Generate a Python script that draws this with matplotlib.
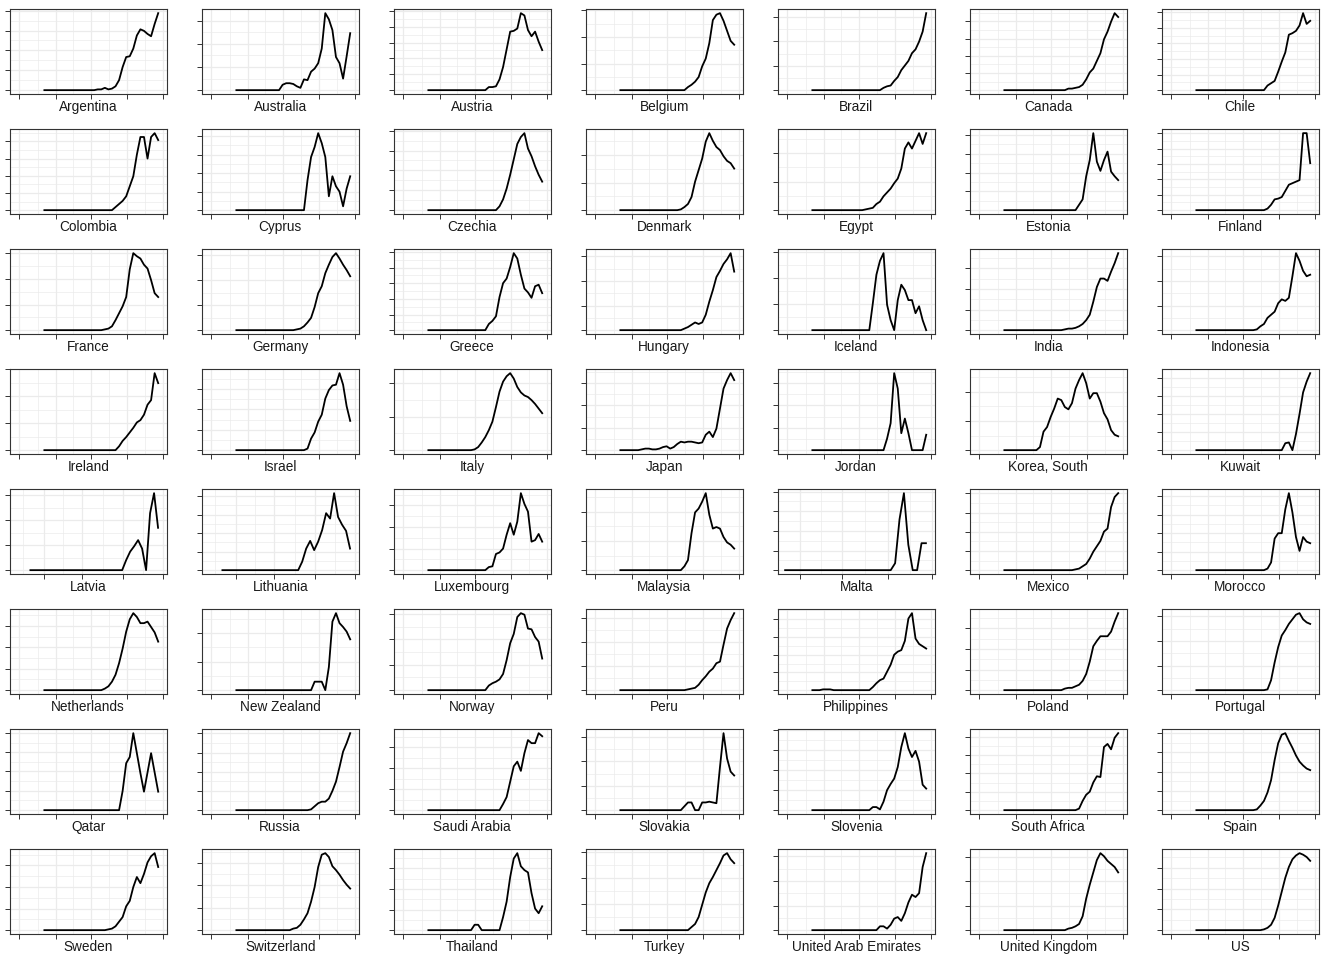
import pandas as pd
import matplotlib
matplotlib.use("Agg")
import matplotlib.pyplot as plt
import matplotlib.dates as mdates
from matplotlib.ticker import MultipleLocator, FixedLocator

# values sampled every 3 days from 22 Jan 2020, in % of each country's peak
dates = pd.date_range("2020-01-22", periods=33, freq="3D")

argentina = [0, 0, 0, 0, 0, 0, 0, 0, 0, 0, 0, 0, 0, 0, 0, 1, 1, 3, 1, 2, 5, 13, 30, 43, 44, 54, 71, 79, 77, 73, 70, 86, 100]
australia = [0, 0, 0, 0, 0, 0, 0, 0, 0, 0, 0, 0, 0, 7, 9, 9, 8, 5, 3, 14, 13, 24, 28, 35, 54, 100, 92, 78, 43, 35, 15, 44, 74]
austria = [0, 0, 0, 0, 0, 0, 0, 0, 0, 0, 0, 0, 0, 0, 0, 0, 0, 4, 4, 5, 14, 30, 53, 76, 77, 80, 100, 97, 78, 70, 76, 63, 52]
belgium = [0, 0, 0, 0, 0, 0, 0, 0, 0, 0, 0, 0, 0, 0, 0, 0, 0, 0, 0, 4, 7, 11, 17, 31, 41, 61, 91, 98, 100, 90, 77, 64, 59]
brazil = [0, 0, 0, 0, 0, 0, 0, 0, 0, 0, 0, 0, 0, 0, 0, 0, 0, 0, 0, 0, 3, 5, 6, 12, 17, 26, 32, 38, 48, 53, 63, 76, 100]
canada = [0, 0, 0, 0, 0, 0, 0, 0, 0, 0, 0, 0, 0, 0, 0, 0, 0, 0, 2, 2, 3, 4, 7, 14, 23, 28, 38, 48, 66, 76, 89, 100, 95]
chile = [0, 0, 0, 0, 0, 0, 0, 0, 0, 0, 0, 0, 0, 0, 0, 0, 0, 0, 0, 0, 6, 9, 12, 24, 37, 49, 72, 74, 77, 84, 100, 86, 90]
colombia = [0, 0, 0, 0, 0, 0, 0, 0, 0, 0, 0, 0, 0, 0, 0, 0, 0, 0, 0, 0, 4, 8, 12, 18, 31, 44, 72, 95, 95, 67, 95, 100, 91]
cyprus = [0, 0, 0, 0, 0, 0, 0, 0, 0, 0, 0, 0, 0, 0, 0, 0, 0, 0, 0, 0, 39, 69, 82, 100, 87, 69, 18, 44, 31, 24, 5, 28, 44]
czechia = [0, 0, 0, 0, 0, 0, 0, 0, 0, 0, 0, 0, 0, 0, 0, 0, 0, 0, 0, 0, 5, 14, 28, 46, 66, 86, 95, 100, 80, 70, 57, 46, 37]
denmark = [0, 0, 0, 0, 0, 0, 0, 0, 0, 0, 0, 0, 0, 0, 0, 0, 0, 1, 4, 8, 17, 37, 52, 67, 89, 100, 90, 82, 78, 70, 64, 61, 54]
egypt = [0, 0, 0, 0, 0, 0, 0, 0, 0, 0, 0, 0, 0, 0, 0, 1, 2, 3, 8, 11, 18, 23, 28, 35, 41, 54, 80, 88, 80, 90, 100, 86, 100]
estonia = [0, 0, 0, 0, 0, 0, 0, 0, 0, 0, 0, 0, 0, 0, 0, 0, 0, 0, 0, 0, 0, 7, 14, 44, 65, 100, 63, 51, 65, 76, 50, 44, 39]
finland = [0, 0, 0, 0, 0, 0, 0, 0, 0, 0, 0, 0, 0, 0, 0, 0, 0, 0, 0, 0, 2, 7, 14, 15, 17, 25, 33, 35, 37, 39, 100, 100, 61]
france = [0, 0, 0, 0, 0, 0, 0, 0, 0, 0, 0, 0, 0, 0, 0, 0, 0, 1, 2, 5, 13, 22, 31, 43, 79, 100, 96, 93, 85, 80, 65, 48, 43]
germany = [0, 0, 0, 0, 0, 0, 0, 0, 0, 0, 0, 0, 0, 0, 0, 0, 0, 1, 2, 5, 10, 16, 30, 48, 57, 74, 85, 95, 100, 93, 85, 78, 70]
greece = [0, 0, 0, 0, 0, 0, 0, 0, 0, 0, 0, 0, 0, 0, 0, 0, 0, 8, 12, 18, 43, 61, 67, 82, 100, 93, 72, 54, 49, 42, 57, 59, 48]
hungary = [0, 0, 0, 0, 0, 0, 0, 0, 0, 0, 0, 0, 0, 0, 0, 0, 0, 0, 2, 4, 7, 10, 8, 10, 20, 37, 52, 69, 77, 86, 92, 100, 76]
iceland = [0, 0, 0, 0, 0, 0, 0, 0, 0, 0, 0, 0, 0, 0, 0, 0, 0, 35, 72, 90, 100, 33, 13, 0, 39, 59, 52, 39, 39, 22, 31, 13, 0]
india = [0, 0, 0, 0, 0, 0, 0, 0, 0, 0, 0, 0, 0, 0, 0, 0, 0, 1, 2, 2, 3, 5, 8, 13, 20, 37, 56, 67, 67, 64, 76, 87, 100]
indonesia = [0, 0, 0, 0, 0, 0, 0, 0, 0, 0, 0, 0, 0, 0, 0, 0, 0, 1, 5, 8, 16, 20, 24, 35, 40, 38, 42, 70, 100, 90, 77, 70, 72]
ireland = [0, 0, 0, 0, 0, 0, 0, 0, 0, 0, 0, 0, 0, 0, 0, 0, 0, 0, 0, 0, 0, 5, 12, 17, 23, 29, 36, 39, 46, 59, 65, 100, 87]
israel = [0, 0, 0, 0, 0, 0, 0, 0, 0, 0, 0, 0, 0, 0, 0, 0, 0, 0, 0, 0, 2, 15, 23, 37, 46, 67, 78, 84, 85, 100, 85, 57, 38]
italy = [0, 0, 0, 0, 0, 0, 0, 0, 0, 0, 0, 0, 0, 1, 4, 10, 17, 26, 37, 56, 76, 89, 96, 100, 93, 82, 75, 71, 69, 65, 60, 54, 48]
japan = [0, 0, 0, 0, 0, 0, 1, 2, 2, 1, 1, 2, 4, 5, 2, 4, 8, 11, 10, 11, 11, 10, 9, 10, 20, 24, 17, 28, 54, 80, 91, 100, 91]
jordan = [0, 0, 0, 0, 0, 0, 0, 0, 0, 0, 0, 0, 0, 0, 0, 0, 0, 0, 0, 0, 0, 15, 35, 100, 80, 22, 41, 22, 0, 0, 0, 0, 20]
korea_south = [0, 0, 0, 0, 0, 0, 0, 0, 0, 0, 4, 24, 30, 43, 54, 67, 65, 56, 53, 61, 80, 91, 100, 87, 67, 74, 74, 63, 48, 40, 26, 20, 18]
kuwait = [0, 0, 0, 0, 0, 0, 0, 0, 0, 0, 0, 0, 0, 0, 0, 0, 0, 0, 0, 0, 0, 0, 0, 0, 0, 9, 10, 0, 21, 47, 75, 89, 100]
latvia = [0, 0, 0, 0, 0, 0, 0, 0, 0, 0, 0, 0, 0, 0, 0, 0, 0, 0, 0, 0, 0, 0, 0, 0, 13, 24, 31, 39, 28, 0, 74, 100, 55]
lithuania = [0, 0, 0, 0, 0, 0, 0, 0, 0, 0, 0, 0, 0, 0, 0, 0, 0, 0, 0, 0, 11, 28, 38, 26, 37, 52, 74, 67, 100, 69, 59, 51, 28]
luxembourg = [0, 0, 0, 0, 0, 0, 0, 0, 0, 0, 0, 0, 0, 0, 0, 0, 0, 4, 5, 21, 23, 28, 46, 61, 46, 63, 100, 86, 76, 37, 39, 47, 37]
malaysia = [0, 0, 0, 0, 0, 0, 0, 0, 0, 0, 0, 0, 0, 0, 0, 0, 0, 0, 5, 13, 48, 75, 80, 89, 100, 72, 54, 56, 54, 43, 36, 33, 28]
malta = [0, 0, 0, 0, 0, 0, 0, 0, 0, 0, 0, 0, 0, 0, 0, 0, 0, 0, 0, 0, 0, 0, 0, 0, 0, 9, 66, 100, 33, 0, 0, 35, 35]
mexico = [0, 0, 0, 0, 0, 0, 0, 0, 0, 0, 0, 0, 0, 0, 0, 0, 0, 0, 0, 0, 1, 2, 5, 8, 15, 24, 31, 38, 50, 54, 82, 95, 100]
morocco = [0, 0, 0, 0, 0, 0, 0, 0, 0, 0, 0, 0, 0, 0, 0, 0, 0, 0, 0, 0, 2, 10, 41, 48, 48, 79, 100, 75, 43, 25, 43, 37, 35]
netherlands = [0, 0, 0, 0, 0, 0, 0, 0, 0, 0, 0, 0, 0, 0, 0, 0, 0, 2, 5, 11, 20, 35, 54, 76, 92, 100, 95, 87, 87, 89, 82, 75, 63]
new_zealand = [0, 0, 0, 0, 0, 0, 0, 0, 0, 0, 0, 0, 0, 0, 0, 0, 0, 0, 0, 0, 0, 0, 11, 11, 11, 0, 30, 89, 100, 87, 82, 76, 66]
norway = [0, 0, 0, 0, 0, 0, 0, 0, 0, 0, 0, 0, 0, 0, 0, 0, 0, 6, 9, 11, 14, 21, 39, 61, 73, 95, 100, 98, 80, 79, 69, 63, 41]
peru = [0, 0, 0, 0, 0, 0, 0, 0, 0, 0, 0, 0, 0, 0, 0, 0, 0, 0, 0, 1, 2, 3, 7, 13, 18, 24, 28, 35, 37, 59, 80, 91, 100]
philippines = [0, 0, 0, 1, 1, 1, 0, 0, 0, 0, 0, 0, 0, 0, 0, 0, 0, 4, 9, 13, 15, 24, 33, 46, 50, 52, 64, 93, 100, 67, 60, 57, 54]
poland = [0, 0, 0, 0, 0, 0, 0, 0, 0, 0, 0, 0, 0, 0, 0, 0, 0, 2, 3, 3, 5, 7, 12, 21, 37, 57, 64, 70, 70, 70, 76, 89, 100]
portugal = [0, 0, 0, 0, 0, 0, 0, 0, 0, 0, 0, 0, 0, 0, 0, 0, 0, 0, 0, 0, 1, 13, 36, 56, 71, 78, 86, 92, 98, 100, 92, 88, 86]
qatar = [0, 0, 0, 0, 0, 0, 0, 0, 0, 0, 0, 0, 0, 0, 0, 0, 0, 0, 0, 0, 0, 0, 25, 61, 69, 100, 74, 48, 24, 49, 74, 49, 24]
russia = [0, 0, 0, 0, 0, 0, 0, 0, 0, 0, 0, 0, 0, 0, 0, 0, 0, 0, 0, 0, 0, 1, 5, 9, 11, 11, 15, 25, 37, 56, 76, 87, 100]
saudi_arabia = [0, 0, 0, 0, 0, 0, 0, 0, 0, 0, 0, 0, 0, 0, 0, 0, 0, 0, 0, 0, 0, 8, 17, 37, 57, 63, 51, 74, 91, 87, 87, 100, 96]
slovakia = [0, 0, 0, 0, 0, 0, 0, 0, 0, 0, 0, 0, 0, 0, 0, 0, 0, 0, 5, 10, 10, 0, 0, 10, 10, 11, 10, 9, 56, 100, 67, 50, 45]
slovenia = [0, 0, 0, 0, 0, 0, 0, 0, 0, 0, 0, 0, 0, 0, 0, 0, 0, 4, 4, 1, 11, 26, 34, 41, 56, 82, 100, 80, 69, 77, 63, 33, 28]
south_africa = [0, 0, 0, 0, 0, 0, 0, 0, 0, 0, 0, 0, 0, 0, 0, 0, 0, 0, 0, 0, 0, 2, 12, 20, 24, 36, 44, 43, 82, 86, 79, 94, 100]
spain = [0, 0, 0, 0, 0, 0, 0, 0, 0, 0, 0, 0, 0, 0, 0, 0, 0, 1, 6, 12, 23, 39, 65, 87, 98, 100, 90, 81, 71, 63, 58, 54, 52]
sweden = [0, 0, 0, 0, 0, 0, 0, 0, 0, 0, 0, 0, 0, 0, 0, 0, 0, 0, 1, 2, 5, 11, 17, 31, 38, 56, 69, 61, 73, 88, 96, 100, 82]
switzerland = [0, 0, 0, 0, 0, 0, 0, 0, 0, 0, 0, 0, 0, 0, 0, 0, 2, 3, 7, 14, 22, 37, 56, 82, 98, 100, 95, 83, 78, 72, 65, 59, 54]
thailand = [0, 0, 0, 0, 0, 0, 0, 0, 0, 0, 0, 0, 0, 7, 7, 0, 0, 0, 0, 0, 0, 17, 37, 69, 93, 100, 83, 78, 75, 48, 28, 22, 31]
turkey = [0, 0, 0, 0, 0, 0, 0, 0, 0, 0, 0, 0, 0, 0, 0, 0, 0, 0, 0, 0, 4, 8, 17, 33, 49, 61, 69, 78, 87, 97, 100, 92, 87]
uae = [0, 0, 0, 0, 0, 0, 0, 0, 0, 0, 0, 0, 0, 0, 0, 0, 0, 0, 0, 5, 5, 2, 7, 15, 17, 12, 22, 36, 46, 43, 48, 82, 100]
united_kingdom = [0, 0, 0, 0, 0, 0, 0, 0, 0, 0, 0, 0, 0, 0, 0, 0, 0, 0, 2, 3, 5, 8, 18, 41, 59, 75, 91, 100, 96, 90, 86, 82, 75]
us = [0, 0, 0, 0, 0, 0, 0, 0, 0, 0, 0, 0, 0, 0, 0, 0, 0, 0, 0, 1, 3, 7, 16, 32, 50, 68, 82, 92, 97, 100, 98, 95, 90]

countries = ["Argentina", "Australia", "Austria", "Belgium", "Brazil", "Canada", "Chile",
             "Colombia", "Cyprus", "Czechia", "Denmark", "Egypt", "Estonia", "Finland",
             "France", "Germany", "Greece", "Hungary", "Iceland", "India", "Indonesia",
             "Ireland", "Israel", "Italy", "Japan", "Jordan", "Korea, South", "Kuwait",
             "Latvia", "Lithuania", "Luxembourg", "Malaysia", "Malta", "Mexico", "Morocco",
             "Netherlands", "New Zealand", "Norway", "Peru", "Philippines", "Poland", "Portugal",
             "Qatar", "Russia", "Saudi Arabia", "Slovakia", "Slovenia", "South Africa", "Spain",
             "Sweden", "Switzerland", "Thailand", "Turkey", "United Arab Emirates", "United Kingdom", "US"]

series = [argentina, australia, austria, belgium, brazil, canada, chile,
          colombia, cyprus, czechia, denmark, egypt, estonia, finland,
          france, germany, greece, hungary, iceland, india, indonesia,
          ireland, israel, italy, japan, jordan, korea_south, kuwait,
          latvia, lithuania, luxembourg, malaysia, malta, mexico, morocco,
          netherlands, new_zealand, norway, peru, philippines, poland, portugal,
          qatar, russia, saudi_arabia, slovakia, slovenia, south_africa, spain,
          sweden, switzerland, thailand, turkey, uae, united_kingdom, us]

# y break spacing of each panel (same units as the series)
tick_step = [25.8, 30, 20.6, 34.6, 31.6, 22.3, 20.2,
             22.3, 24, 25.8, 35.7, 37.2, 24.4, 20,
             33.3, 32.5, 20.3, 32, 33.8, 26.8, 32,
             35, 26.4, 43.3, 29, 29, 37.9, 23.4,
             32.5, 24, 28, 37.9, 25.5, 24.9, 24,
             27.7, 37.2, 33, 31.2, 23, 26.8, 32,
             25.1, 24.9, 27.3, 31.6, 26, 23.8, 25,
             28, 29, 26.8, 34, 32, 31.8, 27]

# first date of each country's table (free x scales), default for the rest
first_date = {"Latvia": "2020-01-12", "Lithuania": "2020-01-12", "Malta": "2020-01-22"}
default_first = "2019-12-30"
last_date = "2020-04-28"

months = pd.date_range("2019-12-01", "2020-06-01", freq="MS")
month_mids = [mdates.date2num(a + (b - a) / 2) for a, b in zip(months[:-1], months[1:])]

fig = plt.figure(figsize=(13.25, 9.6), dpi=100)
W, H = 1325, 960

for k, (name, vals, step) in enumerate(zip(countries, series, tick_step)):
    r, c = divmod(k, 7)
    ax = fig.add_axes([(10 + 192 * c) / W, 1 - (94 + 120 * r) / H, 156.5 / W, 84.7 / H])
    ax.plot(dates, vals, color="black", lw=1.3)

    x0 = mdates.date2num(pd.Timestamp(first_date.get(name, default_first)))
    x1 = mdates.date2num(pd.Timestamp(last_date))
    pad = 0.05 * (x1 - x0)
    ax.set_xlim(x0 - pad, x1 + pad)
    top = max(vals)
    ax.set_ylim(-0.05 * top, 1.05 * top)

    ax.xaxis.set_major_locator(mdates.MonthLocator())
    ax.xaxis.set_minor_locator(FixedLocator(month_mids))
    ax.yaxis.set_major_locator(MultipleLocator(step))
    ax.yaxis.set_minor_locator(MultipleLocator(step / 2))

    ax.set_axisbelow(True)
    ax.grid(which="major", color="#ebebeb", lw=0.9)
    ax.grid(which="minor", color="#ebebeb", lw=0.5)
    ax.tick_params(which="major", length=3.5, width=0.7, color="#333333",
                   labelbottom=False, labelleft=False)
    ax.tick_params(which="minor", length=0)
    for sp in ax.spines.values():
        sp.set_color("#333333")
        sp.set_linewidth(0.8)

    ax.text(0.5, -0.197, name, transform=ax.transAxes, ha="center", va="baseline",
            fontsize=9.8, color="#1a1a1a", family="Liberation Sans")

fig.savefig("out.png", dpi=100, facecolor="white")
